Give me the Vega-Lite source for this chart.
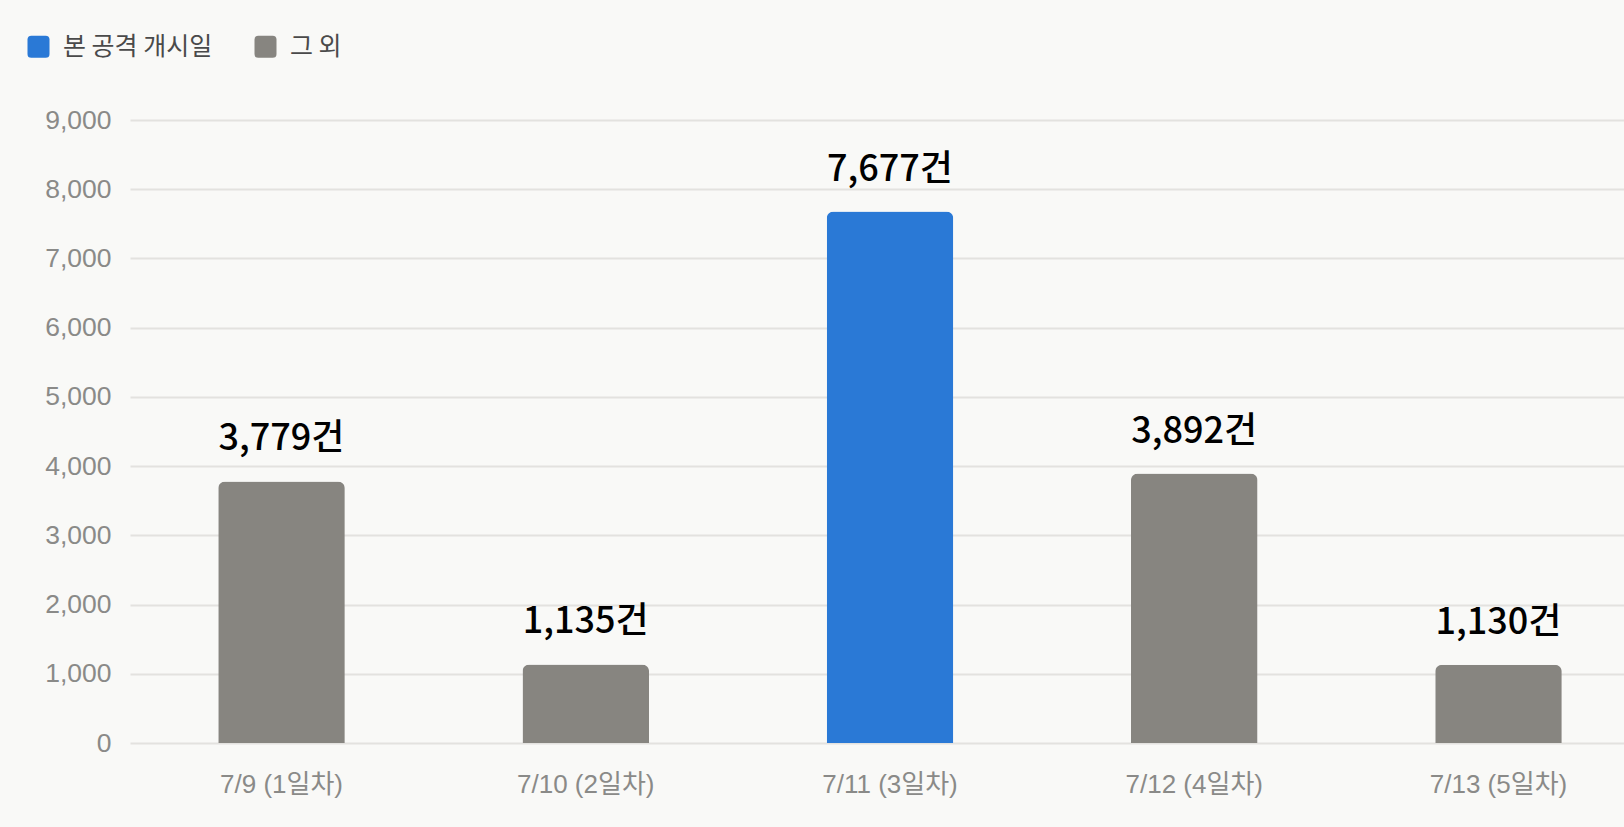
{
  "$schema": "https://vega.github.io/schema/vega-lite/v6.json",
  "width": 1494,
  "height": 623,
  "autosize": {"type": "none"},
  "padding": {"left": 130, "top": 120, "right": 0, "bottom": 84},
  "background": "#F9F9F7",
  "config": {
    "view": {"stroke": null},
    "font": "Liberation Sans"
  },
  "data": {
    "values": [
      {"day": "7/9 (1일차)", "count": 3779, "kind": "그 외"},
      {"day": "7/10 (2일차)", "count": 1135, "kind": "그 외"},
      {"day": "7/11 (3일차)", "count": 7677, "kind": "본 공격 개시일"},
      {"day": "7/12 (4일차)", "count": 3892, "kind": "그 외"},
      {"day": "7/13 (5일차)", "count": 1130, "kind": "그 외"}
    ]
  },
  "encoding": {
    "x": {
      "field": "day",
      "type": "nominal",
      "sort": null,
      "scale": {"range": [0, 1520], "paddingInner": 0.584, "paddingOuter": 0.29},
      "axis": {
        "title": null,
        "labelAngle": 0,
        "domain": false,
        "ticks": false,
        "grid": false,
        "labelFont": "Liberation Sans, Noto Sans CJK KR",
        "labelFontSize": 26,
        "labelColor": "#8A8A88",
        "labelPadding": 28
      }
    },
    "y": {
      "field": "count",
      "type": "quantitative",
      "scale": {"domain": [0, 9000], "nice": false},
      "axis": {
        "title": null,
        "values": [0, 1000, 2000, 3000, 4000, 5000, 6000, 7000, 8000, 9000],
        "format": ",d",
        "domain": false,
        "ticks": false,
        "grid": true,
        "gridColor": "#E3E2DF",
        "gridWidth": 2,
        "labelFont": "Liberation Sans",
        "labelFontSize": 26.5,
        "labelColor": "#8A8A88",
        "labelPadding": 19
      }
    }
  },
  "layer": [
    {
      "mark": {"type": "bar", "cornerRadiusTopLeft": 7, "cornerRadiusTopRight": 7},
      "encoding": {
        "color": {
          "field": "kind",
          "type": "nominal",
          "scale": {"domain": ["본 공격 개시일", "그 외"], "range": ["#2A79D6", "#878580"]},
          "legend": {
            "title": null,
            "orient": "none",
            "direction": "horizontal",
            "legendX": -104,
            "legendY": -86,
            "padding": 0,
            "offset": 0,
            "symbolType": "M-1,-0.65 Q-1,-1 -0.65,-1 L0.65,-1 Q1,-1 1,-0.65 L1,0.65 Q1,1 0.65,1 L-0.65,1 Q-1,1 -1,0.65 Z",
            "symbolSize": 484,
            "symbolStrokeWidth": 0,
            "symbolOpacity": 1,
            "labelFont": "Noto Sans CJK KR",
            "labelFontSize": 25,
            "labelColor": "#4A4A4A",
            "labelOffset": 12,
            "columnPadding": 40
          }
        }
      }
    },
    {
      "transform": [{"calculate": "format(datum.count, ',d') + '건'", "as": "label"}],
      "mark": {
        "type": "text",
        "baseline": "alphabetic",
        "align": "center",
        "dy": -31,
        "font": "Noto Sans CJK KR",
        "fontSize": 36,
        "fontWeight": 500,
        "color": "#000000"
      },
      "encoding": {
        "text": {"field": "label", "type": "nominal"}
      }
    }
  ]
}
